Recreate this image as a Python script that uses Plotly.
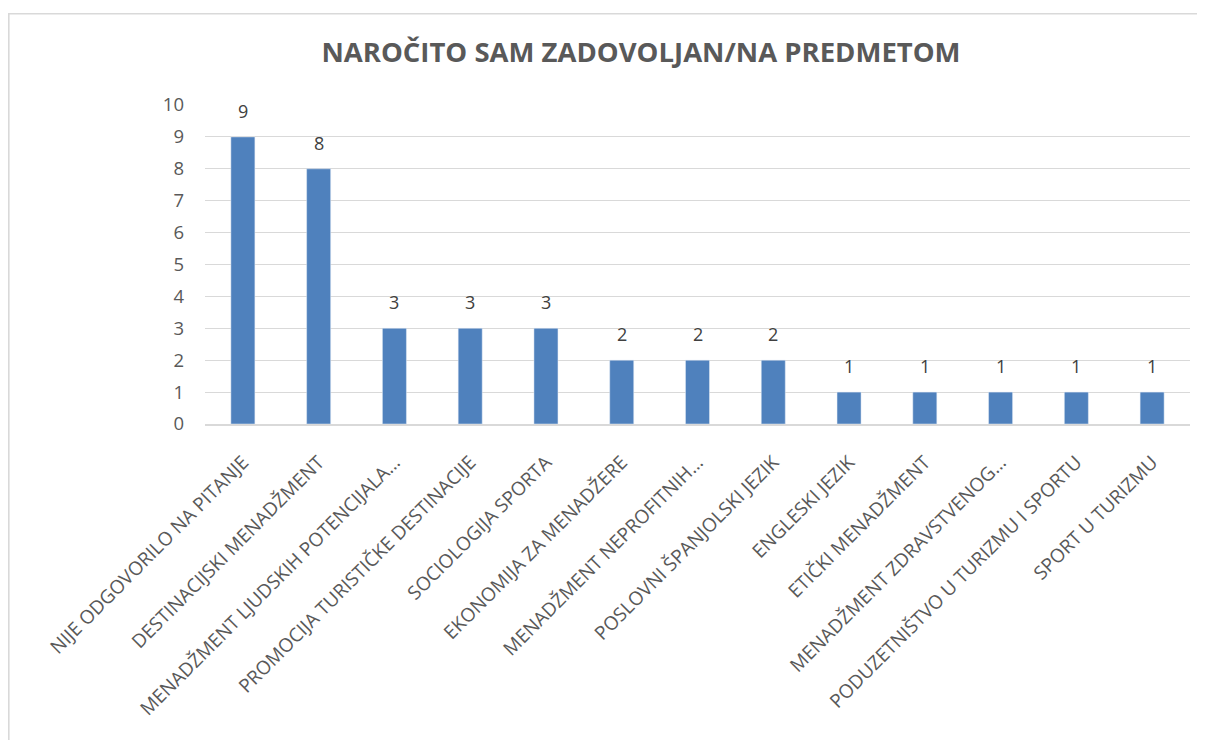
import plotly.graph_objects as go

categories = [
    "NIJE ODGOVORILO NA PITANJE",
    "DESTINACIJSKI MENADŽMENT",
    "MENADŽMENT LJUDSKIH POTENCIJALA…",
    "PROMOCIJA TURISTIČKE DESTINACIJE",
    "SOCIOLOGIJA SPORTA",
    "EKONOMIJA ZA MENADŽERE",
    "MENADŽMENT NEPROFITNIH…",
    "POSLOVNI ŠPANJOLSKI JEZIK",
    "ENGLESKI JEZIK",
    "ETIČKI MENADŽMENT",
    "MENADŽMENT ZDRAVSTVENOG…",
    "PODUZETNIŠTVO U TURIZMU I SPORTU",
    "SPORT U TURIZMU",
]
values = [9, 8, 3, 3, 3, 2, 2, 2, 1, 1, 1, 1, 1]
y_ticks = list(range(0, 11))

W, H = 1205, 740
L, R, T, B = 197, 23, 97, 324
pw, ph = W - L - R, H - T - B

fig = go.Figure(go.Bar(
    x=categories, y=values,
    marker_color="#4F81BD",
    cliponaxis=False,
))

for c, v in zip(categories, values):
    fig.add_annotation(x=c, y=v, text=str(v), showarrow=False,
                       yanchor="bottom", yshift=12,
                       font=dict(size=18, color="#404040", family="Open Sans"))

def px_x(p):
    return (p - L) / pw

def px_y(p):
    return (H - B - p) / ph

fig.update_layout(
    width=W, height=H,
    margin=dict(l=L, r=R, t=T, b=B, autoexpand=False),
    plot_bgcolor="white", paper_bgcolor="white",
    bargap=0.683,
    showlegend=False,
    title=dict(text="<b>NAROČITO SAM ZADOVOLJAN/NA PREDMETOM</b>",
               x=633 / W, xanchor="center", xref="container",
               y=1 - 44 / H, yanchor="middle", yref="container",
               font=dict(size=27.5, color="#595959", family="Open Sans")),
    xaxis=dict(tickangle=-45, automargin=False,
               tickfont=dict(size=19, color="#595959", family="Open Sans"),
               showline=True, linecolor="#D9D9D9", linewidth=1.5, ticks="",
               ticklabelstandoff=18),
    yaxis=dict(range=[0, 10], tickvals=y_ticks, showgrid=True, gridcolor="#D9D9D9",
               gridwidth=1.3, automargin=False,
               tickfont=dict(size=18.5, color="#595959", family="Open Sans"),
               zeroline=False, ticks="", showline=False, ticklabelstandoff=20),
    shapes=[dict(type="rect", xref="paper", yref="paper",
                 x0=px_x(0.8), x1=px_x(1250), y0=px_y(800), y1=px_y(5.8),
                 line=dict(color="#D9D9D9", width=1.6), layer="below")],
)
fig.write_html("out.html")
